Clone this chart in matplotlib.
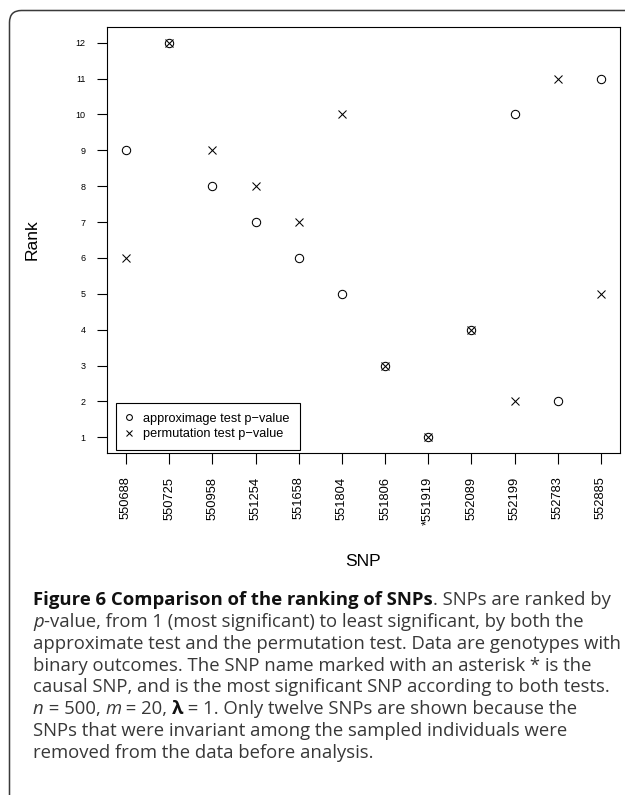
import matplotlib
matplotlib.use("Agg")
from matplotlib import pyplot as plt
from matplotlib.patches import FancyBboxPatch
from matplotlib.transforms import IdentityTransform

snps = ["550688", "550725", "550958", "551254", "551658", "551804",
        "551806", "*551919", "552089", "552199", "552783", "552885"]
approx_rank = [9, 12, 8, 7, 6, 5, 3, 1, 4, 10, 2, 11]
perm_rank = [6, 12, 9, 8, 7, 10, 3, 1, 4, 2, 11, 5]

caption = [
    [("Figure 6 Comparison of the ranking of SNPs", "bold"), (". SNPs are ranked by", "normal")],
    [("p", "italic"), ("-value, from 1 (most significant) to least significant, by both the", "normal")],
    [("approximate test and the permutation test. Data are genotypes with", "normal")],
    [("binary outcomes. The SNP name marked with an asterisk * is the", "normal")],
    [("causal SNP, and is the most significant SNP according to both tests.", "normal")],
    [("n", "italic"), (" = 500, ", "normal"), ("m", "italic"), (" = 20, ", "normal"),
     ("\u03bb", "bold"), (" = 1. Only twelve SNPs are shown because the", "normal")],
    [("SNPs that were invariant among the sampled individuals were", "normal")],
    [("removed from the data before analysis.", "normal")],
]

plot_font = "Liberation Sans"
cap_font = "Open Sans"


def text_width(fig, renderer, s, size, style):
    # width with bracketing bars so leading/trailing spaces count
    kw = dict(fontsize=size, family=cap_font)
    if style == "bold":
        kw["fontweight"] = "bold"
    if style == "italic":
        kw["fontstyle"] = "italic"
    t1 = fig.text(0, 0, "|" + s + "|", transform=IdentityTransform(), **kw)
    t2 = fig.text(0, 0, "||", transform=IdentityTransform(), **kw)
    w = t1.get_window_extent(renderer).width - t2.get_window_extent(renderer).width
    t1.remove()
    t2.remove()
    return w


def draw_caption(fig, renderer, x0, y_top, spacing, size):
    H = fig.get_figheight() * fig.dpi
    for i, line in enumerate(caption):
        x = x0
        y = H - (y_top + i * spacing)
        for s, style in line:
            kw = dict(fontsize=size, family=cap_font, va="center", ha="left",
                      color="#111111" if style == "bold" else "#383838")
            if style == "bold":
                kw["fontweight"] = "bold"
            if style == "italic":
                kw["fontstyle"] = "italic"
            fig.text(x, y, s, transform=IdentityTransform(), **kw)
            x += text_width(fig, renderer, s, size, style)


def main():
    fig = plt.figure(figsize=(6.25, 7.95), dpi=100)
    renderer = fig.canvas.get_renderer()

    # outer rounded frame, cut off at right and bottom
    frame = FancyBboxPatch((9.5, -30), 660, 785 + 30 - 0.5,
                           boxstyle="round,pad=0,rounding_size=12",
                           transform=IdentityTransform(), fill=False,
                           edgecolor="#3a3a3a", linewidth=1.1)
    fig.patches.append(frame)

    ax = fig.add_axes([107 / 625, 1 - 453 / 795, 513 / 625, 426 / 795])
    x = list(range(1, len(snps) + 1))

    ax.plot(x, approx_rank, linestyle="none", marker="o", markersize=6,
            markerfacecolor="none", markeredgecolor="black", markeredgewidth=0.75,
            label="approximage test p\u2212value")
    ax.plot(x, perm_rank, linestyle="none", marker="x", markersize=6,
            color="black", markeredgewidth=0.75,
            label="permutation test p\u2212value")

    ax.set_xlim(0.56, 12.44)
    ax.set_ylim(0.56, 12.44)
    ax.set_xticks(x)
    ax.set_xticklabels(snps, rotation=90, fontsize=9.3, family=plot_font)
    ax.set_yticks(range(1, 13))
    ax.set_yticklabels([str(v) for v in range(1, 13)], fontsize=6.5, family=plot_font)
    ax.tick_params(axis="x", length=8, width=0.8, pad=9)
    ax.tick_params(axis="y", length=7.5, width=0.8, pad=8)
    for sp in ax.spines.values():
        sp.set_linewidth(0.8)

    ax.set_xlabel("SNP", fontsize=12.5, family=plot_font)
    ax.xaxis.set_label_coords(0.5, (453 - 562) / 426)
    ax.xaxis.label.set_va("center")
    ax.set_ylabel("Rank", fontsize=12.5, family=plot_font)
    ax.yaxis.set_label_coords((32 - 107) / 513, 0.5)
    ax.yaxis.label.set_va("center")

    leg = ax.legend(loc="lower left", bbox_to_anchor=(9 / 513, 3 / 426),
                    borderaxespad=0, fancybox=False, framealpha=1,
                    edgecolor="black", prop={"family": plot_font, "size": 9.2},
                    markerscale=0.7, handlelength=0.6, handletextpad=0.8,
                    labelspacing=0.3, borderpad=0.75)
    leg.get_frame().set_linewidth(0.8)

    # caption: scale font so the third line spans the box width
    size = 12.0
    w = text_width(fig, renderer, caption[2][0][0], size, "normal")
    size = size * 585 / w
    draw_caption(fig, renderer, 33, 600, 21.86, size)

    fig.savefig("out.png", dpi=100)


if __name__ == '__main__':
    main()
